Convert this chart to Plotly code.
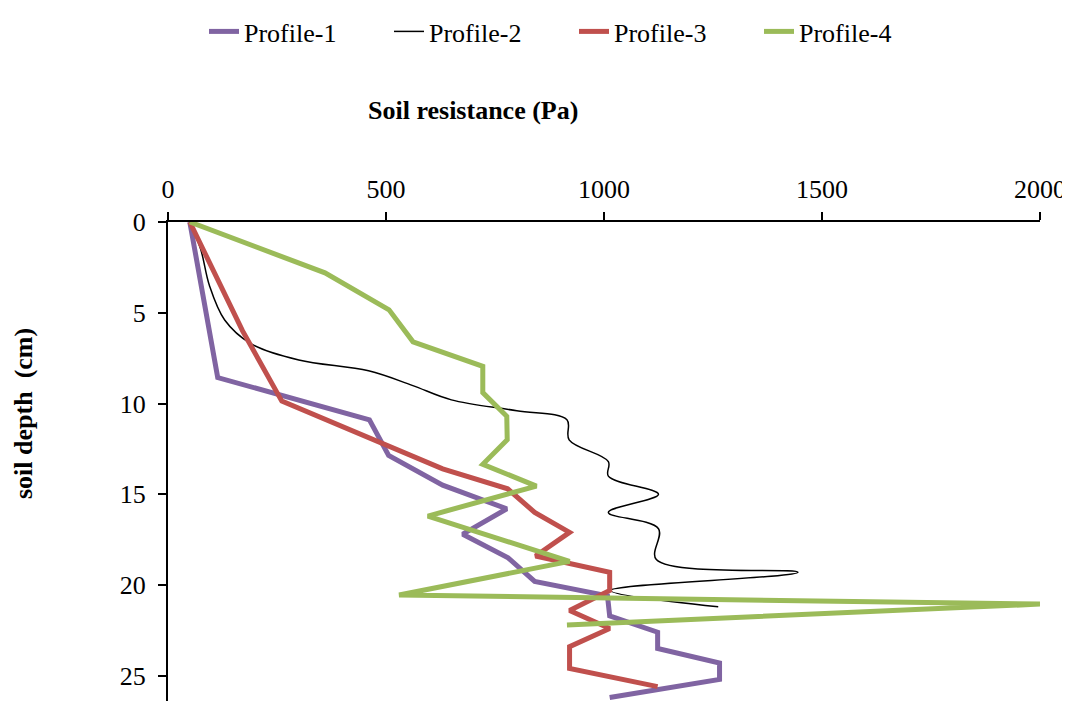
import plotly.graph_objects as go

# Profile-1 (purple)
p1_x = [50, 114, 462, 506, 630, 777, 676, 780, 841, 1008, 1013, 1123, 1123, 1265, 1265, 1013]
p1_y = [0, 8.57, 10.9, 12.86, 14.5, 15.8, 17.2, 18.5, 19.8, 20.6, 21.7, 22.6, 23.5, 24.3, 25.2, 26.2]

# Profile-2 (black, smoothed)
p2_x = [50, 75, 95, 130, 190, 300, 460, 560, 650, 800, 915, 920, 1010, 1010, 1125, 1010, 1125, 1120, 1445, 1015, 1262]
p2_y = [0, 1.5, 3.5, 5.4, 6.7, 7.6, 8.2, 9.0, 9.8, 10.4, 10.9, 12.0, 13.2, 14.0, 15.0, 16.0, 16.9, 18.6, 19.3, 20.3, 21.2]

# Profile-3 (red)
p3_x = [50, 171, 261, 630, 779, 841, 921, 843, 1013, 1013, 921, 1013, 921, 921, 1123]
p3_y = [0, 6.0, 9.87, 13.6, 14.7, 16.0, 17.1, 18.4, 19.3, 20.3, 21.4, 22.4, 23.4, 24.6, 25.6]

# Profile-4 (green)
p4_x = [50, 360, 507, 562, 722, 722, 777, 778, 722, 845, 596, 921, 530, 2000, 915]
p4_y = [0, 2.8, 4.84, 6.6, 7.95, 9.4, 10.7, 12.0, 13.35, 14.55, 16.2, 18.7, 20.55, 21.05, 22.2]

x_ticks = [0, 500, 1000, 1500, 2000]
y_ticks = [0, 5, 10, 15, 20, 25]

FONT = "Liberation Serif"

# figure geometry (page body adds an 8px offset)
W, H = 1062, 693
L, T, R, B = 160, 214, 30, 0
PW, PH = W - L - R, H - T - B

fig = go.Figure()
fig.add_trace(go.Scatter(x=p1_x, y=p1_y, mode="lines", name="Profile-1",
                         line=dict(color="#8064A2", width=5)))
fig.add_trace(go.Scatter(x=p2_x, y=p2_y, mode="lines", name="Profile-2",
                         line=dict(color="#000000", width=1.5, shape="spline", smoothing=1)))
fig.add_trace(go.Scatter(x=p3_x, y=p3_y, mode="lines", name="Profile-3",
                         line=dict(color="#C0504D", width=5)))
fig.add_trace(go.Scatter(x=p4_x, y=p4_y, mode="lines", name="Profile-4",
                         line=dict(color="#9BBB59", width=5)))

fig.update_layout(
    width=W, height=H,
    margin=dict(l=L, r=R, t=T, b=B),
    paper_bgcolor="white", plot_bgcolor="white",
    font=dict(family=FONT, size=26, color="black"),
    showlegend=True,
    legend=dict(orientation="h", x=(196 - L) / PW, xanchor="left",
                yref="container", y=1, yanchor="top",
                font=dict(family=FONT, size=26, color="black"),
                entrywidth=140, entrywidthmode="pixels",
                bgcolor="rgba(0,0,0,0)"),
    xaxis=dict(side="top", range=[0, 2000], tickvals=x_ticks,
               showgrid=False, zeroline=False, showline=True, linecolor="black", linewidth=2,
               ticks="outside", ticklen=8, tickwidth=2, tickcolor="black",
               ticklabelstandoff=4, ticklabeloverflow="allow", automargin=False,
               tickfont=dict(family=FONT, size=26)),
    yaxis=dict(range=[26.39, 0], tickvals=y_ticks,
               showgrid=False, zeroline=False, showline=True, linecolor="black", linewidth=2,
               ticks="outside", ticklen=8, tickwidth=2, tickcolor="black",
               ticklabelstandoff=7, automargin=False,
               tickfont=dict(family=FONT, size=26)),
    annotations=[
        dict(text="<b>Soil resistance (Pa)</b>", xref="paper", yref="paper",
             x=(465 - L) / PW, y=1 + (T - 102) / PH,
             xanchor="center", yanchor="middle", showarrow=False,
             font=dict(family=FONT, size=26)),
        dict(text="<b>soil depth\u00a0 (cm)</b>", xref="paper", yref="paper",
             x=(15 - L) / PW, y=1 - (406 - T) / PH,
             xanchor="center", yanchor="middle", textangle=-90, showarrow=False,
             borderpad=0, font=dict(family=FONT, size=26)),
    ],
)

fig.write_html("out.html")
